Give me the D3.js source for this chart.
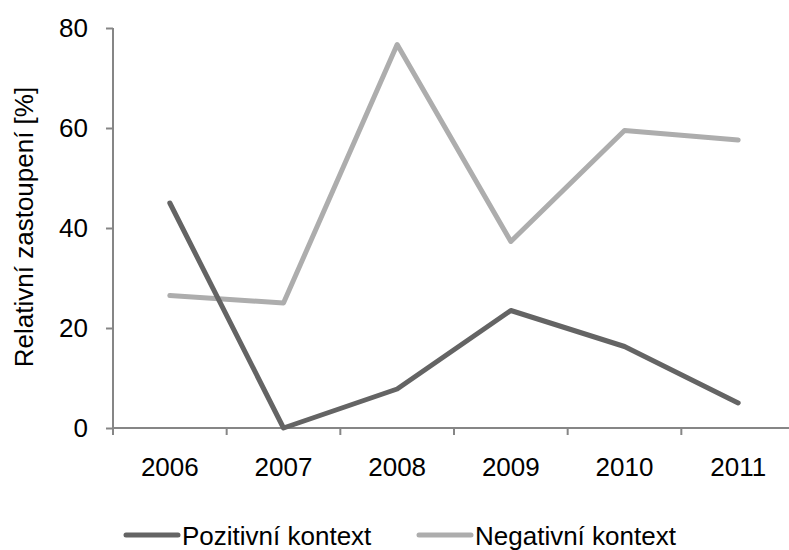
<!DOCTYPE html>
<html>
<head>
<meta charset="utf-8">
<script src="https://cdn.jsdelivr.net/npm/d3@7"></script>
<style>
body{margin:0;background:#fff;}
text{font-family:"Liberation Sans",Arial,sans-serif;fill:#000;}
</style>
</head>
<body>
<svg id="chart" width="789" height="550"></svg>
<script>
var years=["2006","2007","2008","2009","2010","2011"];
var pozitivni=[45,0,7.8,23.5,16.3,5];
var negativni=[26.5,25,76.7,37.3,59.5,57.6];
var yTicks=[0,20,40,60,80];
var seriesNames=["Pozitivní kontext","Negativní kontext"];
var seriesColors=["#646464","#adadad"];

var svg=d3.select("#chart");
var plotLeft=113,plotRight=795,plotTop=28,plotBottom=428;
var fs="26px";

var x=d3.scaleBand().domain(years).range([plotLeft,plotRight]);
var y=d3.scaleLinear().domain([0,80]).range([plotBottom,plotTop]);

var yAxis=d3.axisLeft(y).tickValues(yTicks).tickSize(7).tickPadding(18);
var gy=svg.append("g").attr("transform","translate("+plotLeft+",0)").call(yAxis);
gy.select(".domain").attr("stroke","#868686").attr("stroke-width",2).attr("d","M0,"+plotTop+"V"+plotBottom);
gy.selectAll(".tick line").attr("stroke","#868686").attr("stroke-width",2);
gy.selectAll(".tick text").style("font-size",fs).style("font-family","Liberation Sans, Arial, sans-serif").attr("fill","#000");

var xAxis=d3.axisBottom(x).tickSize(0).tickPadding(30);
var gx=svg.append("g").attr("transform","translate(0,"+plotBottom+")").call(xAxis);
gx.select(".domain").attr("stroke","#868686").attr("stroke-width",2).attr("d","M"+plotLeft+",0H"+plotRight);
gx.selectAll(".tick line").remove();
gx.selectAll(".tick text").style("font-size",fs).style("font-family","Liberation Sans, Arial, sans-serif").attr("fill","#000");
// tick marks between categories
var edges=years.map(function(d){return x(d);}).concat([x(years[years.length-1])+x.bandwidth()]);
gx.selectAll(".edge").data(edges).enter().append("line")
	.attr("x1",function(d){return d;}).attr("x2",function(d){return d;})
	.attr("y1",0).attr("y2",7)
	.attr("stroke","#868686").attr("stroke-width",2);

svg.append("text")
	.attr("transform","translate(33,227) rotate(-90)")
	.attr("text-anchor","middle")
	.style("font-size",fs)
	.text("Relativní zastoupení [%]");

var line=d3.line()
	.x(function(d,i){return x(years[i])+x.bandwidth()/2;})
	.y(function(d){return y(d);});

svg.append("path")
	.attr("d",line(negativni))
	.attr("fill","none")
	.attr("stroke",seriesColors[1])
	.attr("stroke-width",5)
	.attr("stroke-linejoin","round")
	.attr("stroke-linecap","round");

svg.append("path")
	.attr("d",line(pozitivni))
	.attr("fill","none")
	.attr("stroke",seriesColors[0])
	.attr("stroke-width",5)
	.attr("stroke-linejoin","round")
	.attr("stroke-linecap","round");

var legendX=[126,419];
var lg=svg.append("g");
seriesNames.forEach(function(n,i){
	lg.append("line")
		.attr("x1",legendX[i]).attr("x2",legendX[i]+52)
		.attr("y1",535).attr("y2",535)
		.attr("stroke",seriesColors[i]).attr("stroke-width",5)
		.attr("stroke-linecap","round");
	lg.append("text")
		.attr("x",legendX[i]+56).attr("y",545)
		.style("font-size",fs)
		.text(n);
});
</script>
</body>
</html>
